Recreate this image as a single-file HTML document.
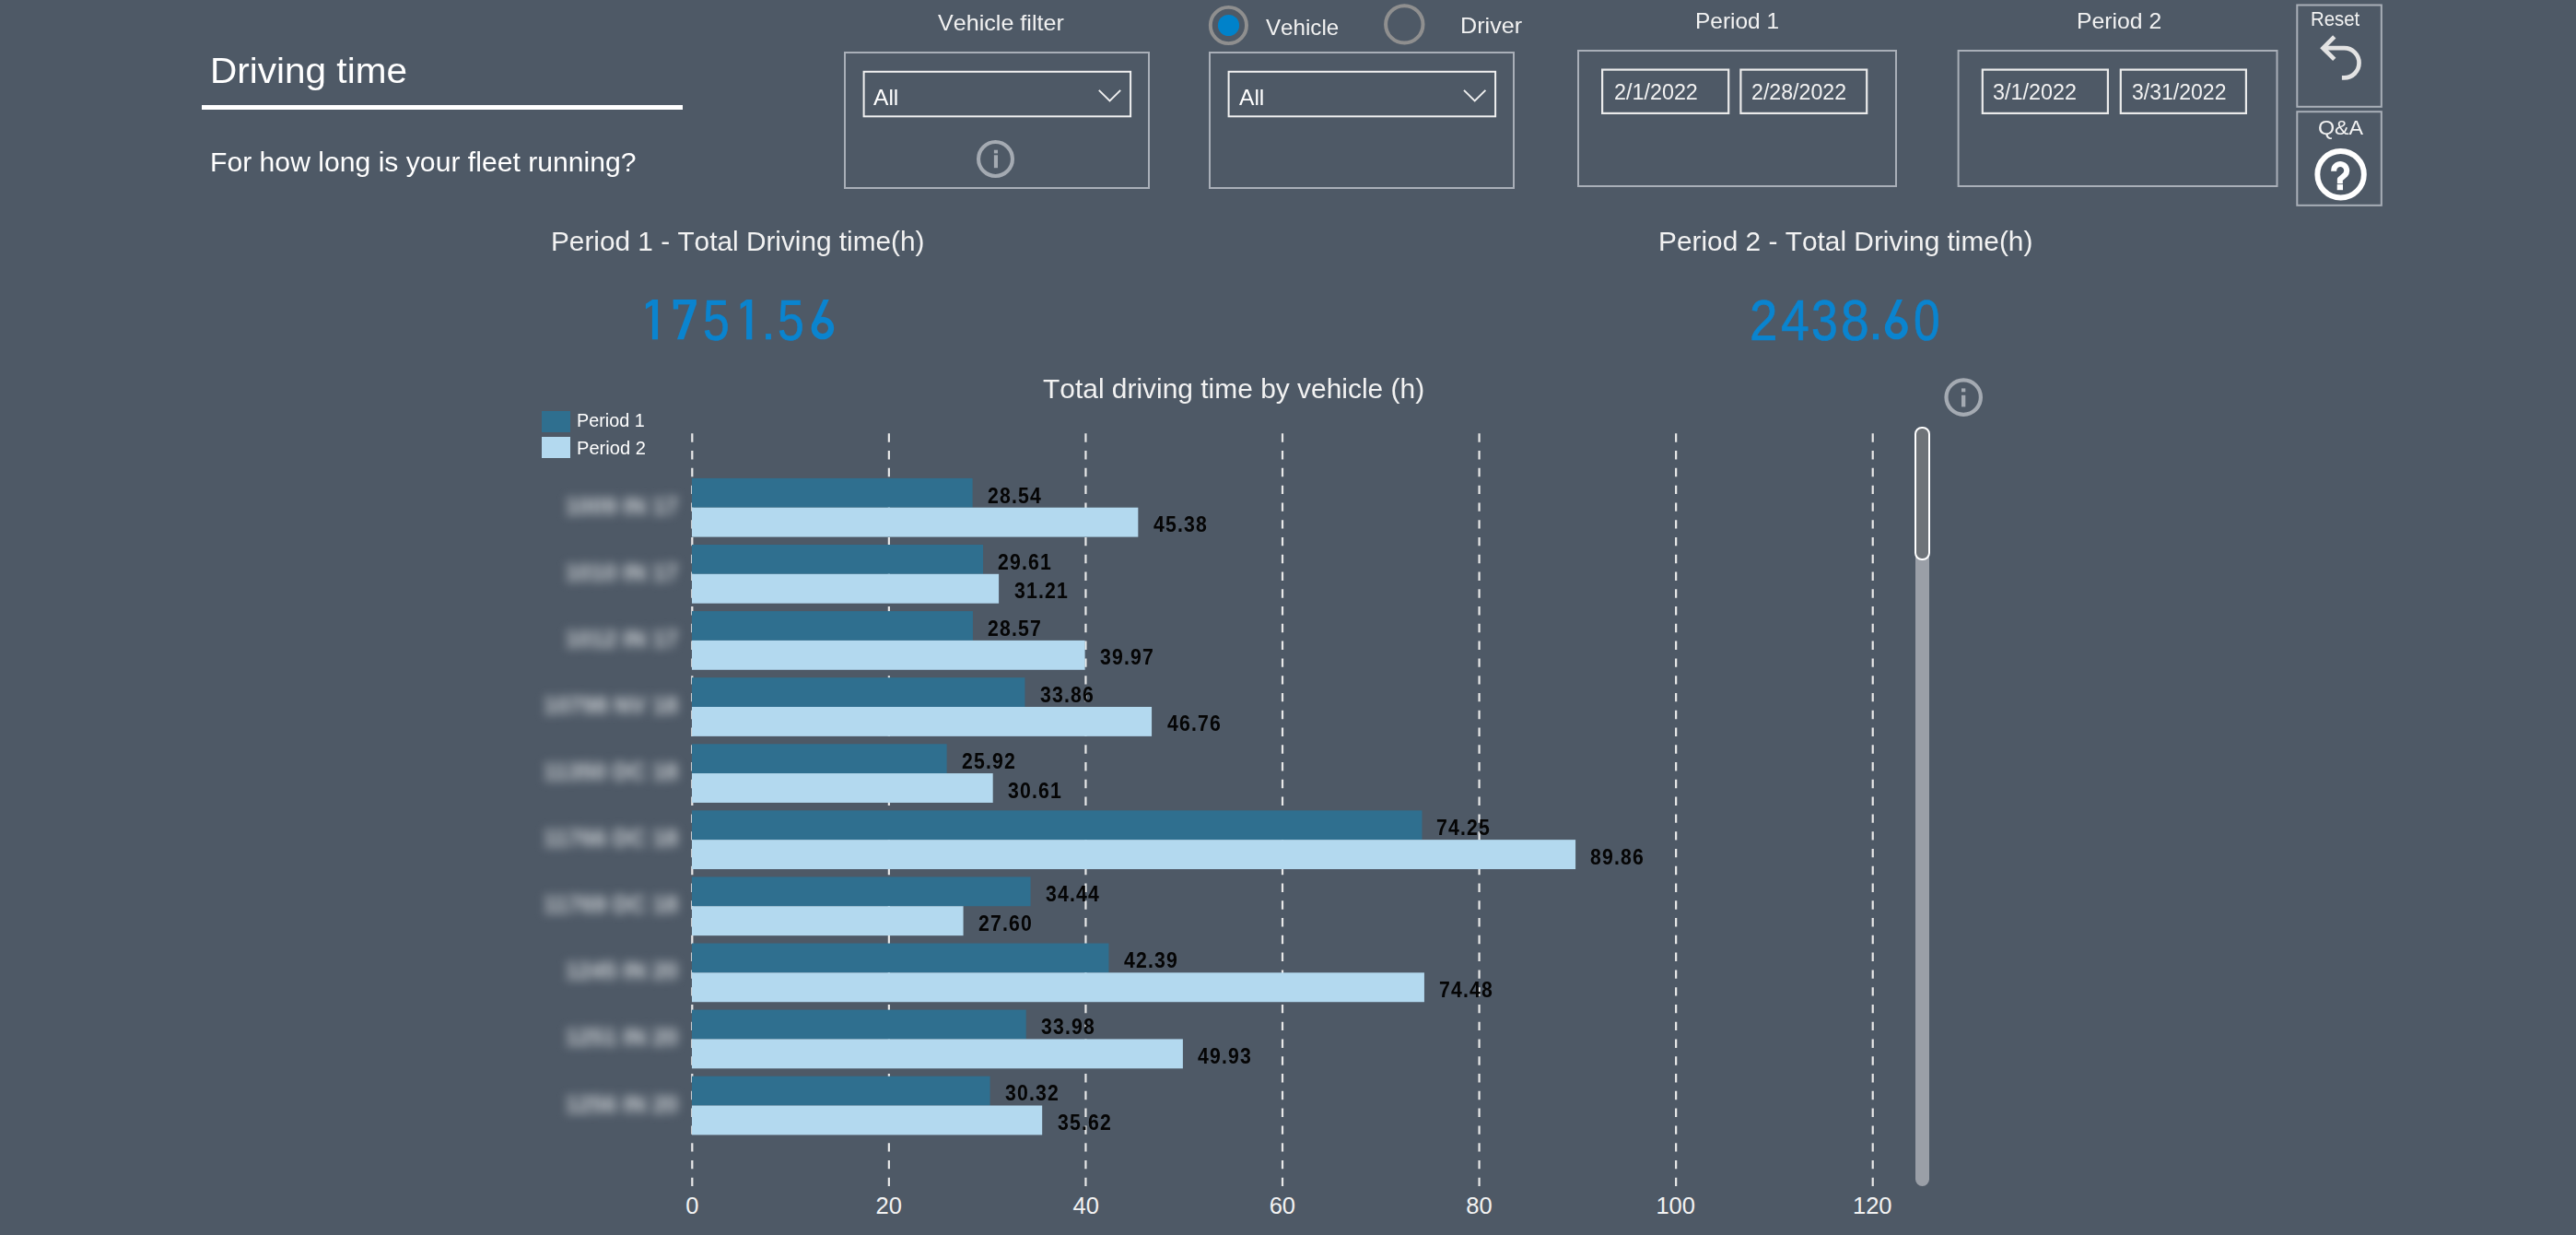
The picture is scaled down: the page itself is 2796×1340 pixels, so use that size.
<!DOCTYPE html>
<html><head><meta charset="utf-8"><style>
html,body{margin:0;padding:0;}
body{width:2796px;height:1340px;background:#4e5966;position:relative;overflow:hidden;font-family:"Liberation Sans",sans-serif;}
.t{position:absolute;white-space:nowrap;line-height:normal;transform-origin:0 0;font-kerning:none;}
.bx{position:absolute;}
.cat{position:absolute;left:560px;width:176px;text-align:right;font-size:25px;color:#d0d4d8;filter:blur(5.5px);white-space:nowrap;line-height:28px;font-weight:bold}
</style></head><body>
<div style="position:absolute;left:219px;top:114px;width:522px;height:5px;background:#fff"></div>
<svg width="2796" height="1340" style="position:absolute;left:0;top:0"><rect x="917.00" y="57.00" width="330.00" height="147.00" fill="none" stroke="#a9afb8" stroke-width="2"/><rect x="937.60" y="77.80" width="289.50" height="48.50" fill="none" stroke="#f0f0f0" stroke-width="2"/><rect x="1313.00" y="57.00" width="330.00" height="147.00" fill="none" stroke="#a9afb8" stroke-width="2"/><rect x="1333.60" y="77.80" width="289.50" height="48.50" fill="none" stroke="#f0f0f0" stroke-width="2"/><rect x="1713.00" y="55.00" width="345.00" height="147.00" fill="none" stroke="#a9afb8" stroke-width="2"/><rect x="1739.10" y="75.60" width="137.10" height="47.30" fill="none" stroke="#ebebeb" stroke-width="2.2"/><rect x="1889.40" y="75.60" width="136.80" height="47.30" fill="none" stroke="#ebebeb" stroke-width="2.2"/><rect x="2125.60" y="55.00" width="345.90" height="147.00" fill="none" stroke="#a9afb8" stroke-width="2"/><rect x="2151.80" y="75.60" width="136.10" height="47.30" fill="none" stroke="#ebebeb" stroke-width="2.2"/><rect x="2301.80" y="75.60" width="136.10" height="47.30" fill="none" stroke="#ebebeb" stroke-width="2.2"/><rect x="2493.30" y="5.50" width="91.50" height="110.30" fill="none" stroke="#a9afb8" stroke-width="2"/><rect x="2493.30" y="121.20" width="91.50" height="101.60" fill="none" stroke="#a9afb8" stroke-width="2"/></svg>
<svg width="2796" height="1340" style="position:absolute;left:0;top:0">
<line x1="751.30" y1="470.3" x2="751.30" y2="1287" stroke="#e8e8e8" stroke-width="2.2" stroke-dasharray="9.4 9.377"/><line x1="964.87" y1="470.3" x2="964.87" y2="1287" stroke="#e8e8e8" stroke-width="2.2" stroke-dasharray="9.4 9.377"/><line x1="1178.44" y1="470.3" x2="1178.44" y2="1287" stroke="#e8e8e8" stroke-width="2.2" stroke-dasharray="9.4 9.377"/><line x1="1392.01" y1="470.3" x2="1392.01" y2="1287" stroke="#e8e8e8" stroke-width="2.2" stroke-dasharray="9.4 9.377"/><line x1="1605.58" y1="470.3" x2="1605.58" y2="1287" stroke="#e8e8e8" stroke-width="2.2" stroke-dasharray="9.4 9.377"/><line x1="1819.15" y1="470.3" x2="1819.15" y2="1287" stroke="#e8e8e8" stroke-width="2.2" stroke-dasharray="9.4 9.377"/><line x1="2032.72" y1="470.3" x2="2032.72" y2="1287" stroke="#e8e8e8" stroke-width="2.2" stroke-dasharray="9.4 9.377"/><rect x="751.00" y="518.90" width="304.61" height="31.80" fill="#2f6f8f"/><rect x="751.00" y="550.70" width="484.34" height="31.90" fill="#b3d9ef"/><rect x="751.00" y="590.99" width="316.03" height="31.80" fill="#2f6f8f"/><rect x="751.00" y="622.79" width="333.10" height="31.90" fill="#b3d9ef"/><rect x="751.00" y="663.08" width="304.93" height="31.80" fill="#2f6f8f"/><rect x="751.00" y="694.88" width="426.60" height="31.90" fill="#b3d9ef"/><rect x="751.00" y="735.17" width="361.39" height="31.80" fill="#2f6f8f"/><rect x="751.00" y="766.97" width="499.07" height="31.90" fill="#b3d9ef"/><rect x="751.00" y="807.26" width="276.64" height="31.80" fill="#2f6f8f"/><rect x="751.00" y="839.06" width="326.70" height="31.90" fill="#b3d9ef"/><rect x="751.00" y="879.35" width="792.47" height="31.80" fill="#2f6f8f"/><rect x="751.00" y="911.15" width="959.08" height="31.90" fill="#b3d9ef"/><rect x="751.00" y="951.44" width="367.58" height="31.80" fill="#2f6f8f"/><rect x="751.00" y="983.24" width="294.57" height="31.90" fill="#b3d9ef"/><rect x="751.00" y="1023.53" width="452.43" height="31.80" fill="#2f6f8f"/><rect x="751.00" y="1055.33" width="794.93" height="31.90" fill="#b3d9ef"/><rect x="751.00" y="1095.62" width="362.67" height="31.80" fill="#2f6f8f"/><rect x="751.00" y="1127.42" width="532.90" height="31.90" fill="#b3d9ef"/><rect x="751.00" y="1167.71" width="323.61" height="31.80" fill="#2f6f8f"/><rect x="751.00" y="1199.51" width="380.17" height="31.90" fill="#b3d9ef"/>
</svg>

<svg width="2796" height="1340" style="position:absolute;left:0;top:0">
 <polyline points="1192.8,97.8 1204.5,109.5 1216.2,97.8" fill="none" stroke="#f0f0f0" stroke-width="1.9"/>
 <polyline points="1589,97.8 1600.7,109.5 1612.4,97.8" fill="none" stroke="#f0f0f0" stroke-width="1.9"/>
 <circle cx="1080.5" cy="172.5" r="18.45" fill="none" stroke="#a4aab2" stroke-width="4.1"/>
 <rect x="1078.9" y="162.7" width="4.1" height="3.7" fill="#a4aab2"/>
 <rect x="1078.9" y="168.3" width="4.1" height="13.9" fill="#a4aab2"/>
 <circle cx="2131.2" cy="431.1" r="18.7" fill="none" stroke="#a4aab2" stroke-width="4.2"/>
 <rect x="2129" y="421.4" width="4.3" height="3.9" fill="#a4aab2"/>
 <rect x="2129" y="428.8" width="4.3" height="12.6" fill="#a4aab2"/>
 <circle cx="1333.4" cy="27.5" r="19.6" fill="none" stroke="#8f8f8f" stroke-width="3.9"/>
 <circle cx="1333.5" cy="27.5" r="11.6" fill="#0082ca"/>
 <circle cx="1524.3" cy="26.4" r="20.2" fill="none" stroke="#8f8f8f" stroke-width="4"/>
 <path d="M2533.75 39.9 L2521.5 52.15 L2533.75 64.4" fill="none" stroke="#e3e3e3" stroke-width="4.7"/>
 <path d="M2521.5 52.15 L2544.4 52.15 A16.15 16.15 0 0 1 2544.4 84.45 L2541.9 84.45" fill="none" stroke="#e3e3e3" stroke-width="4.7"/>
 <circle cx="2540.6" cy="189.3" r="25.25" fill="none" stroke="#ffffff" stroke-width="5.9"/>
 <path d="M2533.15 185.8 L2533.15 185.05 A7 7 0 1 1 2545.5 189.55 L2539.85 194.5 L2539.85 199.2" fill="none" stroke="#ffffff" stroke-width="6" stroke-linejoin="round"/>
 <rect x="2536.7" y="200.1" width="6.3" height="6.1" fill="#fff"/>
</svg>
<svg width="2796" height="1340" style="position:absolute;left:0;top:0" fill="#0a84cf"><rect x="707.90" y="325.0" width="6.2" height="43.30"/><polygon points="700.90,329.70 708.10,325.00 708.10,331.10 700.90,335.40"/><rect x="730.80" y="325.0" width="24.80" height="5.4"/><rect x="730.80" y="325.0" width="5.4" height="10.5"/><polygon points="748.60,330.40 755.60,325.00 755.60,330.40 742.10,368.30 734.90,368.30"/><rect x="810.10" y="325.0" width="6.2" height="43.30"/><polygon points="803.60,329.70 810.30,325.00 810.30,331.10 803.60,335.40"/><rect x="831.10" y="362.10" width="5.80" height="6.2"/><circle cx="892.90" cy="356.00" r="9.20" fill="none" stroke="#0a84cf" stroke-width="6.2"/><polygon points="893.60,325.0 899.80,325.0 888.00,351.00 880.90,353.30"/><rect x="2032.90" y="362.10" width="6.20" height="6.2"/><circle cx="2058.30" cy="355.80" r="9.40" fill="none" stroke="#0a84cf" stroke-width="6.2"/><polygon points="2058.80,325.0 2065.00,325.0 2053.20,351.00 2046.10,353.30"/></svg>

<div style="position:absolute;left:2079px;top:470px;width:15.3px;height:817px;background:#9a9fa7;border-radius:8px"></div>
<div style="position:absolute;left:2078.3px;top:463.2px;width:12.6px;height:140.4px;background:#6e7378;border:2px solid #fff;border-radius:8px"></div>
<div class="cat" style="top:534.7px">1009 IN 17</div><div class="cat" style="top:606.8px">1010 IN 17</div><div class="cat" style="top:678.9px">1012 IN 17</div><div class="cat" style="top:751.0px">10798 NV 18</div><div class="cat" style="top:823.1px">11350 DC 18</div><div class="cat" style="top:895.1px">11766 DC 18</div><div class="cat" style="top:967.2px">11769 DC 18</div><div class="cat" style="top:1039.3px">1245 IN 20</div><div class="cat" style="top:1111.4px">1251 IN 20</div><div class="cat" style="top:1183.5px">1256 IN 20</div>
<div style="position:absolute;left:588px;top:446px;width:31px;height:23px;background:#2f6f8f"></div>
<div style="position:absolute;left:588px;top:474px;width:31px;height:23px;background:#b3d9ef"></div>
<div class="t" style="left:227.58px;top:55.10px;font-size:38.50px;color:#ffffff;transform:scaleX(1.0526);">Driving time</div>
<div class="t" style="left:227.63px;top:159.20px;font-size:29.50px;color:#ffffff;transform:scaleX(1.0219);">For how long is your fleet running?</div>
<div class="t" style="left:1018.09px;top:11.00px;font-size:24.50px;color:#f2f2f2;transform:scaleX(1.0253);">Vehicle filter</div>
<div class="t" style="left:948.25px;top:91.90px;font-size:24.50px;color:#ffffff;transform:scaleX(1.0023);">All</div>
<div class="t" style="left:1344.55px;top:91.90px;font-size:24.50px;color:#ffffff;transform:scaleX(1.0023);">All</div>
<div class="t" style="left:1373.89px;top:15.50px;font-size:24.50px;color:#f2f2f2;transform:scaleX(0.9854);">Vehicle</div>
<div class="t" style="left:1584.74px;top:14.30px;font-size:24.50px;color:#f2f2f2;transform:scaleX(1.0268);">Driver</div>
<div class="t" style="left:1840.09px;top:8.90px;font-size:24.50px;color:#f2f2f2;transform:scaleX(0.9983);">Period 1</div>
<div class="t" style="left:2253.97px;top:8.90px;font-size:24.50px;color:#f2f2f2;transform:scaleX(1.0112);">Period 2</div>
<div class="t" style="left:1751.73px;top:87.40px;font-size:23.00px;color:#f2f2f2;transform:scaleX(1.0147);">2/1/2022</div>
<div class="t" style="left:1901.34px;top:87.40px;font-size:23.00px;color:#f2f2f2;transform:scaleX(1.0069);">2/28/2022</div>
<div class="t" style="left:2163.41px;top:87.40px;font-size:23.00px;color:#f2f2f2;transform:scaleX(1.0160);">3/1/2022</div>
<div class="t" style="left:2313.72px;top:87.40px;font-size:23.00px;color:#f2f2f2;transform:scaleX(1.0011);">3/31/2022</div>
<div class="t" style="left:2508.33px;top:7.80px;font-size:22.50px;color:#f2f2f2;transform:scaleX(0.9055);">Reset</div>
<div class="t" style="left:2515.90px;top:126.00px;font-size:22.50px;color:#f2f2f2;transform:scaleX(1.0343);">Q&amp;A</div>
<div class="t" style="left:598.26px;top:244.90px;font-size:29.50px;color:#f2f2f2;transform:scaleX(1.0096);">Period 1 - Total Driving time(h)</div>
<div class="t" style="left:1799.85px;top:244.90px;font-size:29.50px;color:#f2f2f2;transform:scaleX(1.0118);">Period 2 - Total Driving time(h)</div>
<div class="t" style="left:1132.23px;top:404.90px;font-size:29.50px;color:#f2f2f2;transform:scaleX(1.0144);">Total driving time by vehicle (h)</div>
<div class="t" style="left:626.17px;top:445.10px;font-size:20.00px;color:#ffffff;transform:scaleX(0.9906);">Period 1</div>
<div class="t" style="left:626.15px;top:475.20px;font-size:20.00px;color:#ffffff;transform:scaleX(1.0049);">Period 2</div>
<div class="t" style="left:763.23px;top:311.69px;font-size:62.06px;color:#0a84cf;transform:scaleX(0.8327);-webkit-text-stroke:0.7px #0a84cf;">5</div>
<div class="t" style="left:844.23px;top:311.69px;font-size:62.06px;color:#0a84cf;transform:scaleX(0.8327);-webkit-text-stroke:0.7px #0a84cf;">5</div>
<div class="t" style="left:1899.45px;top:311.69px;font-size:62.06px;color:#0a84cf;transform:scaleX(0.8808);-webkit-text-stroke:0.7px #0a84cf;">2</div>
<div class="t" style="left:1932.53px;top:311.69px;font-size:62.06px;color:#0a84cf;transform:scaleX(0.8922);-webkit-text-stroke:0.7px #0a84cf;">4</div>
<div class="t" style="left:1965.73px;top:311.69px;font-size:62.06px;color:#0a84cf;transform:scaleX(0.8327);-webkit-text-stroke:0.7px #0a84cf;">3</div>
<div class="t" style="left:1998.30px;top:311.69px;font-size:62.06px;color:#0a84cf;transform:scaleX(0.8894);-webkit-text-stroke:0.7px #0a84cf;">8</div>
<div class="t" style="left:2076.79px;top:311.69px;font-size:62.06px;color:#0a84cf;transform:scaleX(0.8293);-webkit-text-stroke:0.7px #0a84cf;">0</div>
<div class="t" style="left:744.21px;top:1294.20px;font-size:25.50px;color:#f2f2f2;">0</div>
<div class="t" style="left:950.54px;top:1294.20px;font-size:25.50px;color:#f2f2f2;">20</div>
<div class="t" style="left:1164.46px;top:1294.20px;font-size:25.50px;color:#f2f2f2;">40</div>
<div class="t" style="left:1377.68px;top:1294.20px;font-size:25.50px;color:#f2f2f2;">60</div>
<div class="t" style="left:1591.34px;top:1294.20px;font-size:25.50px;color:#f2f2f2;">80</div>
<div class="t" style="left:1797.40px;top:1294.20px;font-size:25.50px;color:#f2f2f2;">100</div>
<div class="t" style="left:2010.97px;top:1294.20px;font-size:25.50px;color:#f2f2f2;">120</div>
<div class="t" style="left:1071.77px;top:524.50px;font-size:23.35px;color:#050505;font-weight:bold;transform:scaleX(0.9100);letter-spacing:1.300px;">28.54</div>
<div class="t" style="left:1251.92px;top:556.20px;font-size:23.35px;color:#050505;font-weight:bold;transform:scaleX(0.9100);letter-spacing:1.300px;">45.38</div>
<div class="t" style="left:1083.19px;top:596.59px;font-size:23.35px;color:#050505;font-weight:bold;transform:scaleX(0.9100);letter-spacing:1.300px;">29.61</div>
<div class="t" style="left:1100.52px;top:628.29px;font-size:23.35px;color:#050505;font-weight:bold;transform:scaleX(0.9100);letter-spacing:1.300px;">31.21</div>
<div class="t" style="left:1072.09px;top:668.68px;font-size:23.35px;color:#050505;font-weight:bold;transform:scaleX(0.9100);letter-spacing:1.300px;">28.57</div>
<div class="t" style="left:1194.01px;top:700.38px;font-size:23.35px;color:#050505;font-weight:bold;transform:scaleX(0.9100);letter-spacing:1.300px;">39.97</div>
<div class="t" style="left:1128.80px;top:740.77px;font-size:23.35px;color:#050505;font-weight:bold;transform:scaleX(0.9100);letter-spacing:1.300px;">33.86</div>
<div class="t" style="left:1266.65px;top:772.47px;font-size:23.35px;color:#050505;font-weight:bold;transform:scaleX(0.9100);letter-spacing:1.300px;">46.76</div>
<div class="t" style="left:1043.81px;top:812.86px;font-size:23.35px;color:#050505;font-weight:bold;transform:scaleX(0.9100);letter-spacing:1.300px;">25.92</div>
<div class="t" style="left:1094.11px;top:844.56px;font-size:23.35px;color:#050505;font-weight:bold;transform:scaleX(0.9100);letter-spacing:1.300px;">30.61</div>
<div class="t" style="left:1559.46px;top:884.95px;font-size:23.35px;color:#050505;font-weight:bold;transform:scaleX(0.9100);letter-spacing:1.300px;">74.25</div>
<div class="t" style="left:1726.30px;top:916.65px;font-size:23.35px;color:#050505;font-weight:bold;transform:scaleX(0.9100);letter-spacing:1.300px;">89.86</div>
<div class="t" style="left:1134.99px;top:957.04px;font-size:23.35px;color:#050505;font-weight:bold;transform:scaleX(0.9100);letter-spacing:1.300px;">34.44</div>
<div class="t" style="left:1061.74px;top:988.74px;font-size:23.35px;color:#050505;font-weight:bold;transform:scaleX(0.9100);letter-spacing:1.300px;">27.60</div>
<div class="t" style="left:1220.01px;top:1029.13px;font-size:23.35px;color:#050505;font-weight:bold;transform:scaleX(0.9100);letter-spacing:1.300px;">42.39</div>
<div class="t" style="left:1561.91px;top:1060.83px;font-size:23.35px;color:#050505;font-weight:bold;transform:scaleX(0.9100);letter-spacing:1.300px;">74.48</div>
<div class="t" style="left:1130.08px;top:1101.22px;font-size:23.35px;color:#050505;font-weight:bold;transform:scaleX(0.9100);letter-spacing:1.300px;">33.98</div>
<div class="t" style="left:1300.48px;top:1132.92px;font-size:23.35px;color:#050505;font-weight:bold;transform:scaleX(0.9100);letter-spacing:1.300px;">49.93</div>
<div class="t" style="left:1091.02px;top:1173.31px;font-size:23.35px;color:#050505;font-weight:bold;transform:scaleX(0.9100);letter-spacing:1.300px;">30.32</div>
<div class="t" style="left:1147.58px;top:1205.01px;font-size:23.35px;color:#050505;font-weight:bold;transform:scaleX(0.9100);letter-spacing:1.300px;">35.62</div>
</body></html>
